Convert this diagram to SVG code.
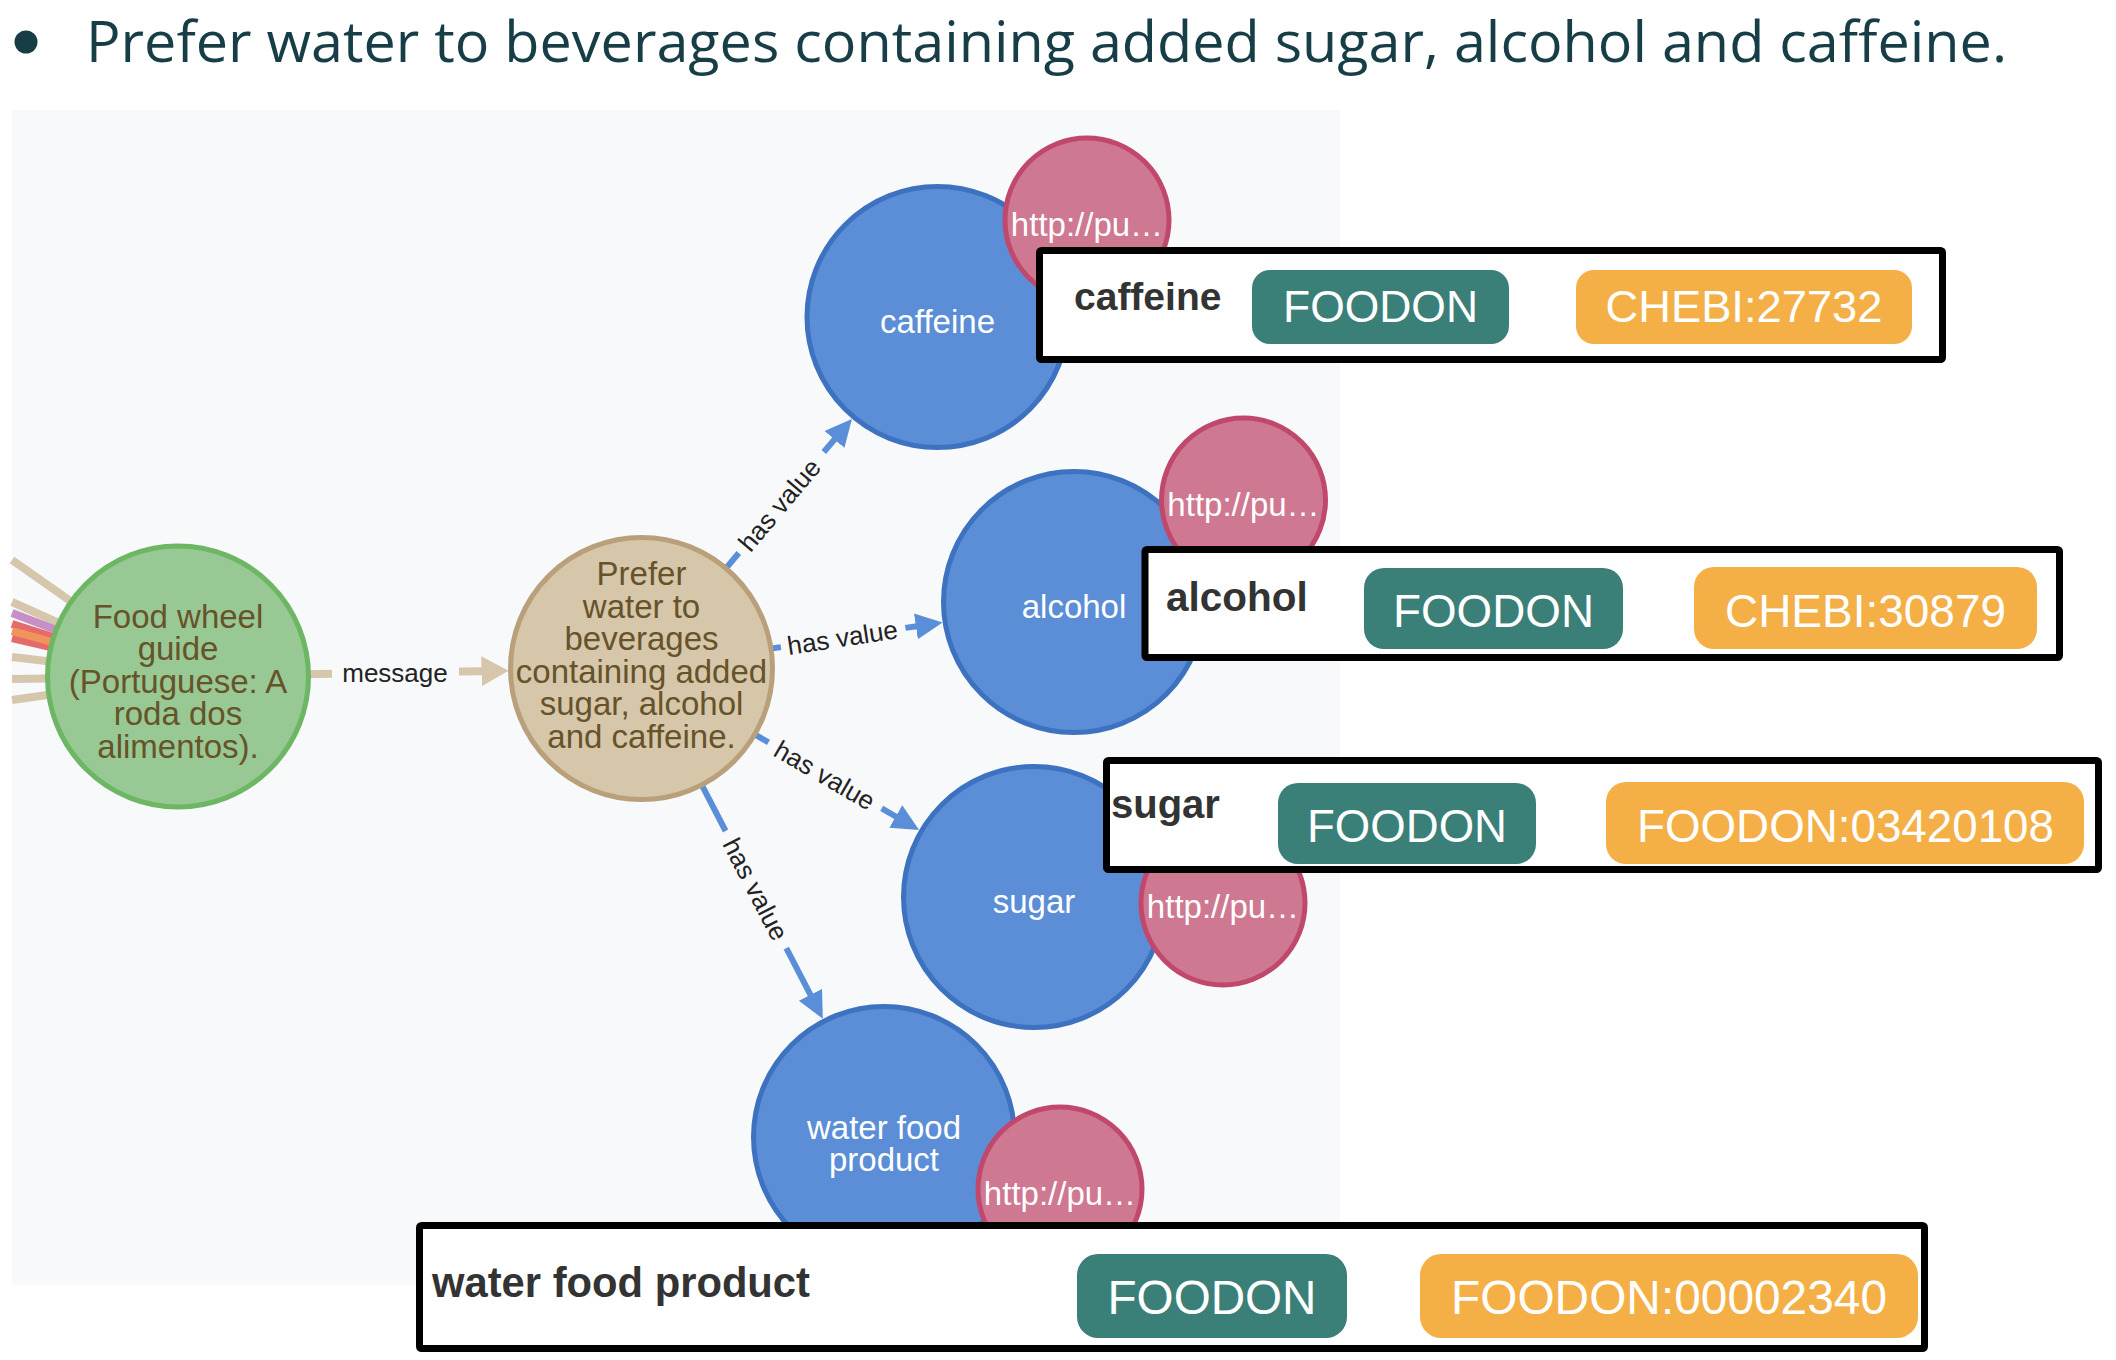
<svg xmlns="http://www.w3.org/2000/svg" width="2116" height="1360" viewBox="0 0 2116 1360">
<defs>
<style>
.title{font-family:"Open Sans","Noto Sans",sans-serif;font-size:56px;fill:#173e47}
.nl{font-family:"Liberation Sans",Arial,sans-serif;font-size:33px;text-anchor:middle}
.brown{fill:#66532a}
.white{fill:#ffffff}
.green{fill:#98c893;stroke:#6cb664;stroke-width:5}
.tan{fill:#d6c6aa;stroke:#b9a07a;stroke-width:5}
.blue{fill:#5b8ed6;stroke:#3d72c0;stroke-width:5}
.pink{fill:#cf7891;stroke:#c1486d;stroke-width:5}
.el{font-family:"Liberation Sans",Arial,sans-serif;font-size:26px;fill:#222222;text-anchor:middle}
.hv{stroke:#5b8ed8;stroke-width:6;fill:none}
.msg{stroke:#d6c6ab;stroke-width:8;fill:none}
.in{stroke-width:8;fill:none}
.box{fill:#ffffff;stroke:#000000;stroke-width:7}
.bl{font-family:"Liberation Sans",Arial,sans-serif;font-weight:bold;fill:#333333}
.teal{fill:#3a7f78}
.orange{fill:#f4b046}
.bt{font-family:"Liberation Sans",Arial,sans-serif;fill:#ffffff;text-anchor:middle}
</style>
<marker id="ab" markerUnits="userSpaceOnUse" viewBox="0 -14 28 28" refX="1" refY="0" markerWidth="28" markerHeight="28" orient="auto"><path d="M0,-13 L27,0 L0,13 z" fill="#5b8ed8"/></marker>
<marker id="at" markerUnits="userSpaceOnUse" viewBox="0 -16 28 32" refX="1" refY="0" markerWidth="28" markerHeight="32" orient="auto"><path d="M0,-15 L27,0 L0,15 z" fill="#d6c6ab"/></marker>
</defs>

<g id="title">
<circle cx="26" cy="42" r="11.5" fill="#173e47"/>
<text class="title" x="86" y="62" textLength="1921" lengthAdjust="spacingAndGlyphs">Prefer water to beverages containing added sugar, alcohol and caffeine.</text>
</g>

<rect id="panel" x="12" y="110" width="1328" height="1175" fill="#f8f9fb"/>

<g id="connectors">
<g id="incoming">
<line class="in" x1="12" y1="560" x2="178" y2="676.5" stroke="#d6c6ab"/>
<line class="in" x1="12" y1="602" x2="178" y2="676.5" stroke="#d6c6ab"/>
<line class="in" x1="12" y1="613" x2="178" y2="676.5" stroke="#c690c6" stroke-width="7"/>
<line class="in" x1="12" y1="624" x2="178" y2="676.5" stroke="#e56a6a" stroke-width="10"/>
<line class="in" x1="12" y1="638" x2="178" y2="676.5" stroke="#e56a6a" stroke-width="9"/>
<line class="in" x1="12" y1="631" x2="178" y2="676.5" stroke="#f0945c" stroke-width="5"/>
<line class="in" x1="12" y1="657" x2="178" y2="676.5" stroke="#d6c6ab"/>
<line class="in" x1="12" y1="679" x2="178" y2="676.5" stroke="#d6c6ab"/>
<line class="in" x1="12" y1="700" x2="178" y2="676.5" stroke="#d6c6ab"/>
</g>
<g id="e-message">
<line class="msg" x1="306" y1="674.3" x2="332" y2="673.8"/>
<line class="msg" x1="459" y1="671.6" x2="482.5" y2="671.2" marker-end="url(#at)"/>
<text class="el" x="395" y="672.7" dy="0.35em">message</text>
</g>
<g id="e-caffeine">
<line class="hv" x1="724" y1="570.6" x2="738.8" y2="553"/>
<line class="hv" x1="823.8" y1="452" x2="835.1" y2="438.7" marker-end="url(#ab)"/>
<text class="el" transform="translate(779.4 504.8) rotate(-49.9)" dy="0.35em">has value</text>
</g>
<g id="e-alcohol">
<line class="hv" x1="768" y1="649" x2="780.9" y2="647.1"/>
<line class="hv" x1="905.4" y1="627.9" x2="916.9" y2="626.2" marker-end="url(#ab)"/>
<text class="el" transform="translate(842.5 637.6) rotate(-8.74)" dy="0.35em">has value</text>
</g>
<g id="e-sugar">
<line class="hv" x1="752" y1="732.9" x2="768.5" y2="742.4"/>
<line class="hv" x1="881.7" y1="808.4" x2="896.6" y2="817" marker-end="url(#ab)"/>
<text class="el" transform="translate(824.7 775.1) rotate(30.2)" dy="0.35em">has value</text>
</g>
<g id="e-water">
<line class="hv" x1="700.3" y1="782.2" x2="725.6" y2="831"/>
<line class="hv" x1="786.3" y1="948.2" x2="810.9" y2="995.7" marker-end="url(#ab)"/>
<text class="el" transform="translate(755.6 889.1) rotate(62.6)" dy="0.35em">has value</text>
</g>
</g>

<g id="node-foodwheel">
<circle class="green" cx="178" cy="676.5" r="130.5"/>
<text class="nl brown"><tspan x="178" y="628">Food wheel</tspan><tspan x="178" y="660">guide</tspan><tspan x="178" y="693">(Portuguese: A</tspan><tspan x="178" y="725">roda dos</tspan><tspan x="178" y="758">alimentos).</tspan></text>
</g>

<g id="node-prefer">
<circle class="tan" cx="641.5" cy="668.5" r="131"/>
<text class="nl brown"><tspan x="641.5" y="585">Prefer</tspan><tspan x="641.5" y="618">water to</tspan><tspan x="641.5" y="650">beverages</tspan><tspan x="641.5" y="683">containing added</tspan><tspan x="641.5" y="715">sugar, alcohol</tspan><tspan x="641.5" y="748">and caffeine.</tspan></text>
</g>

<g id="node-caffeine">
<circle class="blue" cx="937.5" cy="317" r="130.5"/>
<text class="nl white" x="937.5" y="333">caffeine</text>
</g>
<g id="node-caffeine-uri">
<circle class="pink" cx="1087" cy="220" r="82"/>
<text class="nl white" x="1087" y="236">http://pu…</text>
</g>

<g id="node-alcohol">
<circle class="blue" cx="1074" cy="602" r="130.5"/>
<text class="nl white" x="1074" y="618">alcohol</text>
</g>
<g id="node-alcohol-uri">
<circle class="pink" cx="1243.5" cy="500" r="82"/>
<text class="nl white" x="1243.5" y="516">http://pu…</text>
</g>

<g id="node-sugar">
<circle class="blue" cx="1034" cy="897" r="130.5"/>
<text class="nl white" x="1034" y="913">sugar</text>
</g>
<g id="node-sugar-uri">
<circle class="pink" cx="1223" cy="903" r="82"/>
<text class="nl white" x="1223" y="918">http://pu…</text>
</g>

<g id="node-water">
<circle class="blue" cx="884" cy="1137" r="130.5"/>
<text class="nl white"><tspan x="884" y="1139">water food</tspan><tspan x="884" y="1171">product</tspan></text>
</g>
<g id="node-water-uri">
<circle class="pink" cx="1060" cy="1189" r="82"/>
<text class="nl white" x="1060" y="1205">http://pu…</text>
</g>

<g id="box-caffeine">
<rect class="box" x="1039.5" y="250.5" width="903" height="109" rx="2"/>
<text class="bl" x="1074" y="310" font-size="39">caffeine</text>
<rect class="teal" x="1252" y="270" width="257" height="74" rx="18"/>
<text class="bt" x="1380.5" y="322" font-size="44" textLength="195" lengthAdjust="spacingAndGlyphs">FOODON</text>
<rect class="orange" x="1576" y="270" width="336" height="74" rx="18"/>
<text class="bt" x="1744" y="322" font-size="44" textLength="277" lengthAdjust="spacingAndGlyphs">CHEBI:27732</text>
</g>

<g id="box-alcohol">
<rect class="box" x="1145" y="549.5" width="914.5" height="108" rx="2"/>
<text class="bl" x="1166" y="611" font-size="40.5">alcohol</text>
<rect class="teal" x="1364" y="568" width="259" height="81" rx="20"/>
<text class="bt" x="1493.5" y="627" font-size="46" textLength="201" lengthAdjust="spacingAndGlyphs">FOODON</text>
<rect class="orange" x="1694" y="567" width="343" height="82" rx="20"/>
<text class="bt" x="1865.5" y="627" font-size="46" textLength="281" lengthAdjust="spacingAndGlyphs">CHEBI:30879</text>
</g>

<g id="box-sugar">
<rect class="box" x="1106.5" y="760.5" width="992" height="109" rx="2"/>
<text class="bl" x="1111" y="818" font-size="40">sugar</text>
<rect class="teal" x="1278" y="783" width="258" height="81" rx="20"/>
<text class="bt" x="1407" y="842" font-size="46" textLength="200" lengthAdjust="spacingAndGlyphs">FOODON</text>
<rect class="orange" x="1606" y="782" width="478" height="82" rx="20"/>
<text class="bt" x="1845.5" y="842" font-size="46" textLength="417" lengthAdjust="spacingAndGlyphs">FOODON:03420108</text>
</g>

<g id="box-water">
<rect class="box" x="419.5" y="1225.5" width="1505" height="123" rx="2"/>
<text class="bl" x="432" y="1297" font-size="42" textLength="378" lengthAdjust="spacingAndGlyphs">water food product</text>
<rect class="teal" x="1077" y="1254" width="270" height="84" rx="21"/>
<text class="bt" x="1212" y="1314" font-size="48" textLength="209" lengthAdjust="spacingAndGlyphs">FOODON</text>
<rect class="orange" x="1420" y="1254" width="498" height="84" rx="21"/>
<text class="bt" x="1669" y="1314" font-size="48" textLength="436" lengthAdjust="spacingAndGlyphs">FOODON:00002340</text>
</g>
</svg>
